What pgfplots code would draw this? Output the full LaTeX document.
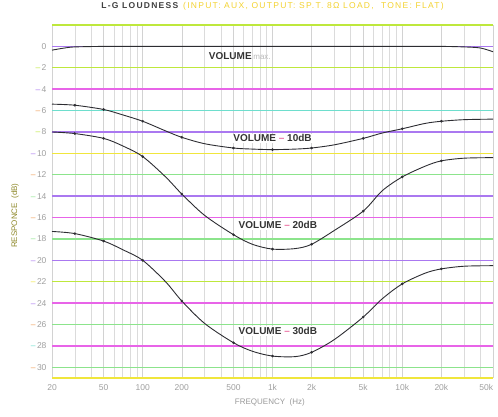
\documentclass[border=0pt]{standalone}
\usepackage{fontspec}
\setmainfont{Liberation Sans}
\usepackage{pgfplots}
\pgfplotsset{compat=1.18}

% scanned-look grid colours
\definecolor{gLime}{RGB}{190,232,60}
\definecolor{gMag}{RGB}{232,100,232}
\definecolor{gCyan}{RGB}{110,222,205}
\definecolor{gYel}{RGB}{240,230,60}
\definecolor{gGreen}{RGB}{140,228,140}
\definecolor{gViol}{RGB}{170,120,240}
\definecolor{gPink}{RGB}{235,110,160}
\definecolor{gOrange}{RGB}{240,160,90}
\definecolor{curve}{RGB}{45,45,50}

\newcommand\dd[1]{\textcolor{#1}{--}\,}
\newcommand\gridrule[2]{\draw[#2, line width=1.4pt] (axis cs:20,#1) -- (axis cs:50000,#1);}

\begin{document}
\begin{tikzpicture}
\useasboundingbox (-52pt,-39pt) rectangle (446pt,378pt);
\begin{axis}[
    at={(0,0)}, anchor=south west,
    scale only axis,
    width=441pt, height=353pt,
    xmode=log,
    xmin=20, xmax=50000,
    ymin=-31, ymax=2,
    axis line style={draw=none},
    major tick length=0pt, minor tick length=0pt,
    xtick={20,50,100,200,500,1000,2000,5000,10000,20000,50000},
    xticklabels={20,50,100,200,500,1k,2k,5k,10k,20k,\makebox[0pt][r]{50k}},
    minor xtick={30,40,60,70,80,90,300,400,600,700,800,900,3000,4000,6000,7000,8000,9000,30000,40000},
    xmajorgrids, xminorgrids,
    grid style={gray!35, line width=0.5pt},
    minor grid style={gray!28, line width=0.5pt},
    ytick={0,-2,...,-30},
    yticklabels={0,\dd{gLime}2,\dd{gViol}4,\dd{gOrange}6,\dd{gLime}8,\dd{gViol}10,\dd{gOrange}12,\dd{gGreen}14,\dd{gOrange}16,\dd{gGreen}18,\dd{gViol}20,\dd{gYel}22,\dd{gViol}24,\dd{gOrange}26,\dd{gCyan}28,\dd{gOrange}30},
    tick label style={font=\fontsize{8.5}{10}\selectfont, text=gray!75},
    xticklabel style={yshift=-3pt},
    yticklabel style={xshift=-2pt},
    /pgf/number format/assume math mode=true,
    xlabel={FREQUENCY\ \ (Hz)},
    xlabel style={font=\fontsize{8}{10}\selectfont, text=gray!80, at={(axis description cs:0.494,-0.068)}, anchor=center},
    ylabel={RESPONCE\ \ (dB)},
    ylabel style={font=\fontsize{8}{10}\selectfont, text=olive!70!gray, at={(axis description cs:-0.084,0.46)}, anchor=center},
    title={\textbf{L-G LOUDNESS}\ \textcolor{gYel!80!orange}{(INPUT: AUX, OUTPUT: SP.T. 8Ω LOAD,\ \ TONE: FLAT)}},
    title style={font=\fontsize{8.5}{10}\selectfont\addfontfeature{LetterSpace=15}, text=black!75, at={(axis description cs:0.5,1.037)}, anchor=center},
    clip=false,
]
% coloured horizontal rules
\gridrule{2}{gLime}
\gridrule{0}{gViol}
\gridrule{-2}{gLime}
\gridrule{-4}{gMag}
\gridrule{-6}{gCyan}
\gridrule{-8}{gViol}
\gridrule{-10}{gYel}
\gridrule{-12}{gGreen}
\gridrule{-14}{gViol}
\gridrule{-16}{gMag}
\gridrule{-18}{gGreen}
\gridrule{-20}{gViol}
\gridrule{-22}{gLime}
\gridrule{-24}{gMag}
\gridrule{-26}{gGreen}
\gridrule{-28}{gMag}
\gridrule{-30}{gGreen}
\gridrule{-31}{gYel}

% VOLUME max.
\addplot[curve, line width=0.9pt, smooth] coordinates {
    (20,-0.35) (25,-0.15) (30,-0.05) (50,0) (100,0) (200,0) (500,0) (1000,0)
    (2000,0) (5000,0) (10000,0) (20000,0) (30000,-0.05) (40000,-0.15) (50000,-0.5)
};
% VOLUME -10dB
\addplot[curve, line width=0.9pt, smooth, mark=*, mark size=0.8pt,
    mark indices={2,3,5,7,9,11,13,15,17,19}] coordinates {
    (20,-5.4) (30,-5.5) (50,-5.9) (70,-6.4) (100,-7.0) (150,-7.9) (200,-8.5)
    (300,-9.1) (500,-9.5) (700,-9.6) (1000,-9.65) (1500,-9.6) (2000,-9.5)
    (3000,-9.2) (5000,-8.6) (7000,-8.1) (10000,-7.7) (15000,-7.2) (20000,-7.0)
    (30000,-6.85) (50000,-6.8)
};
% VOLUME -20dB
\addplot[curve, line width=0.9pt, smooth, mark=*, mark size=0.8pt,
    mark indices={2,3,5,7,9,11,13,15,17,19}] coordinates {
    (20,-8.0) (30,-8.15) (50,-8.6) (70,-9.3) (100,-10.3) (150,-12.2) (200,-13.8)
    (300,-15.8) (500,-17.6) (700,-18.5) (1000,-18.95) (1500,-18.9) (2000,-18.5)
    (3000,-17.2) (5000,-15.4) (7000,-13.5) (10000,-12.2) (15000,-11.2) (20000,-10.7)
    (30000,-10.45) (50000,-10.4)
};
% VOLUME -30dB
\addplot[curve, line width=0.9pt, smooth, mark=*, mark size=0.8pt,
    mark indices={2,3,5,7,9,11,13,15,17,19}] coordinates {
    (20,-17.3) (30,-17.5) (50,-18.2) (70,-19.0) (100,-20.0) (150,-22.0) (200,-23.8)
    (300,-25.9) (500,-27.7) (700,-28.5) (1000,-28.95) (1500,-29.0) (2000,-28.6)
    (3000,-27.4) (5000,-25.3) (7000,-23.6) (10000,-22.2) (15000,-21.2) (20000,-20.8)
    (30000,-20.55) (50000,-20.5)
};

\tikzset{vol/.style={font=\fontsize{10}{12}\selectfont\bfseries, text=black!80, inner sep=1pt}}
\node[vol] at (axis cs:560,-0.95) {VOLUME\,\textcolor{gray!55}{\mdseries\fontsize{8}{9}\selectfont max.}};
\node[vol, fill=white] at (axis cs:1000,-8.6) {VOLUME \textcolor{gPink}{--} 10dB};
\node[vol, fill=white] at (axis cs:1100,-16.7) {VOLUME \textcolor{gPink}{--} 20dB};
\node[vol, fill=white] at (axis cs:1100,-26.6) {VOLUME \textcolor{gPink}{--} 30dB};
\end{axis}
\end{tikzpicture}
\end{document}
